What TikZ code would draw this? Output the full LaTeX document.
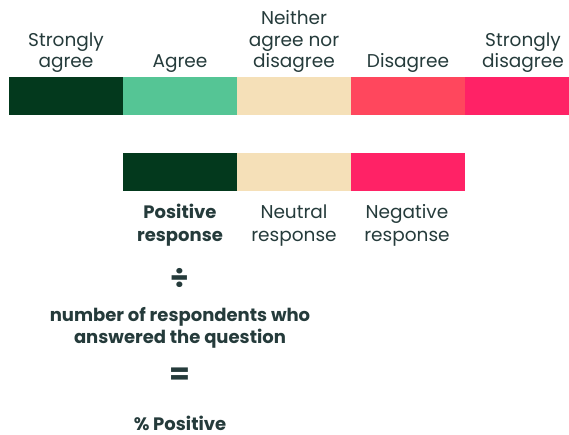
\documentclass[tikz,border=0pt]{standalone}
\usepackage{fontspec}
\setmainfont{Poppins}
\definecolor{sagree}{HTML}{03391D}
\definecolor{agree}{HTML}{55C595}
\definecolor{neutral}{HTML}{F5E0B8}
\definecolor{disagree}{HTML}{FF475D}
\definecolor{sdisagree}{HTML}{FF2266}
\definecolor{txt}{HTML}{253B3B}
\tikzset{
  seg/.style={fill=#1, draw=none},
  lbl/.style={anchor=base, inner sep=0pt, text=txt, font=\fontsize{18.5}{22}\selectfont},
  blbl/.style={anchor=base, inner sep=0pt, text=txt, font=\fontsize{18}{22}\selectfont\bfseries},
  sym/.style={anchor=center, inner sep=0pt, text=txt, font=\fontsize{30}{34}\selectfont\bfseries},
}
\begin{document}
\begin{tikzpicture}[x=1pt,y=-1pt]
\useasboundingbox (0,0) rectangle (569,435);
% top bar
\fill[seg=sagree] (9,77) rectangle (123,115);
\fill[seg=agree] (123,77) rectangle (237,115);
\fill[seg=neutral] (237,77) rectangle (351,115);
\fill[seg=disagree] (351,77) rectangle (465,115);
\fill[seg=sdisagree] (465,77) rectangle (569,115);
% labels top
\node[lbl] (sa1) at (66,47) {Strongly};
\node[lbl] (sa2) at (66,68) {agree};
\node[lbl] (ag) at (180,68) {Agree};
\node[lbl] (ne1) at (294,25) {Neither};
\node[lbl] (ne2) at (294,46.5) {agree nor};
\node[lbl] (ne3) at (294,68) {disagree};
\node[lbl] (di) at (408,68) {Disagree};
\node[lbl] (sd1) at (523,47) {Strongly};
\node[lbl] (sd2) at (523,68) {disagree};
% second bar
\fill[seg=sagree] (123,153) rectangle (237,191);
\fill[seg=neutral] (237,153) rectangle (351,191);
\fill[seg=sdisagree] (351,153) rectangle (465,191);
\node[blbl] (po1) at (180,219) {Positive};
\node[blbl] (po2) at (180,241) {response};
\node[lbl] (nu1) at (294,219) {Neutral};
\node[lbl] (nu2) at (294,241) {response};
\node[lbl] (ng1) at (407,219) {Negative};
\node[lbl] (ng2) at (407,241) {response};
% formula
\node[sym] (div) at (180,278) {÷};
\node[blbl] (nr1) at (180,321) {number of respondents who};
\node[blbl] (nr2) at (180,343) {answered the question};
\node[sym] (eq) at (180,376) {=};
\node[blbl] (pp) at (180,430) {\% Positive};
\end{tikzpicture}
\end{document}
